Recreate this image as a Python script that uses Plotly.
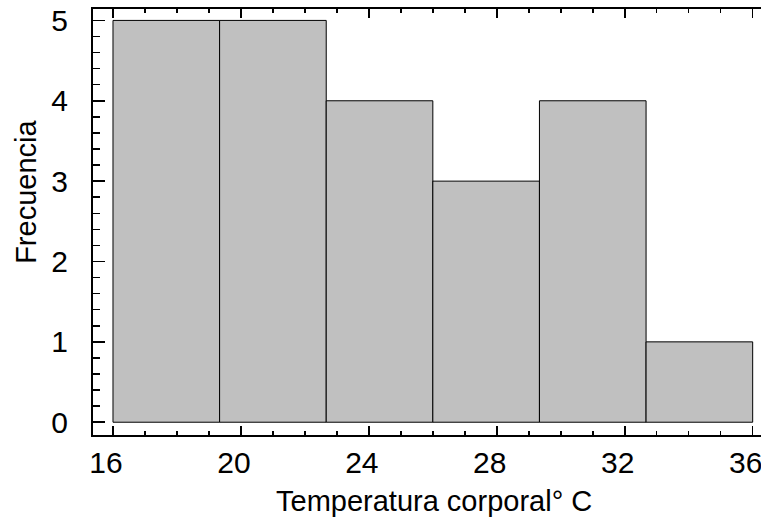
import plotly.graph_objects as go

# Data
bin_edges = [16.0, 19.3333, 22.6667, 26.0, 29.3333, 32.6667, 36.0]
counts = [5, 5, 4, 3, 4, 1]
x_tick_vals = [16, 20, 24, 28, 32, 36]
y_tick_vals = [0, 1, 2, 3, 4, 5]
x_title = "Temperatura corporal° C"
y_title = "Frecuencia"

centers = [(a + b) / 2 for a, b in zip(bin_edges[:-1], bin_edges[1:])]
widths = [b - a for a, b in zip(bin_edges[:-1], bin_edges[1:])]

FONT = "Liberation Sans, Arial, sans-serif"

fig = go.Figure(
    go.Bar(
        x=centers,
        y=counts,
        width=widths,
        marker=dict(color="#c0c0c0", line=dict(color="#000000", width=1)),
        hoverinfo="skip",
    )
)

fig.update_layout(
    width=761,
    height=520,
    margin=dict(l=93, r=0, t=9, b=85, pad=0, autoexpand=False),
    paper_bgcolor="white",
    plot_bgcolor="white",
    showlegend=False,
    hovermode=False,
    dragmode=False,
    font=dict(family=FONT, size=30, color="black"),
    xaxis=dict(
        range=[15.375, 36.26],
        automargin=False,
        tickmode="array",
        tickvals=x_tick_vals,
        ticks="inside",
        ticklen=9,
        tickwidth=1.5,
        tickcolor="black",
        showline=True,
        linecolor="black",
        linewidth=2,
        mirror="allticks",
        showgrid=False,
        zeroline=False,
        showspikes=False,
        tickfont=dict(family=FONT, size=30, color="black"),
        ticklabelshift=-7,
        ticklabeloverflow="allow",
        minor=dict(dtick=1, tick0=16, ticks="inside", ticklen=4, tickwidth=1.5, tickcolor="black", showgrid=False),
    ),
    yaxis=dict(
        range=[-0.159, 5.142],
        automargin=False,
        tickmode="array",
        tickvals=y_tick_vals,
        ticks="inside",
        ticklen=12,
        tickwidth=1.5,
        tickcolor="black",
        showline=True,
        mirror=False,
        linecolor="black",
        linewidth=2,
        showgrid=False,
        zeroline=False,
        showspikes=False,
        tickfont=dict(family=FONT, size=30, color="black"),
        ticklabeloverflow="allow",
        ticklabelstandoff=17,
        minor=dict(dtick=0.2, tick0=0, ticks="inside", ticklen=7, tickwidth=1.5, tickcolor="black", showgrid=False),
    ),
    annotations=[
        dict(text=x_title, xref="paper", yref="paper", x=0.5103, y=-0.156,
             xanchor="center", yanchor="middle", showarrow=False,
             font=dict(family=FONT, size=29, color="black")),
        dict(text=y_title, xref="paper", yref="paper", x=-0.0993, y=0.570,
             xanchor="center", yanchor="middle", showarrow=False, textangle=-90,
             font=dict(family=FONT, size=29, color="black")),
    ],
)

fig.write_html(
    "out.html",
    config={"displayModeBar": False, "staticPlot": True},
    post_script=(
        "document.body.style.margin='0';"
        "document.body.style.overflow='hidden';"
        "document.documentElement.style.overflow='hidden';"
    ),
)
